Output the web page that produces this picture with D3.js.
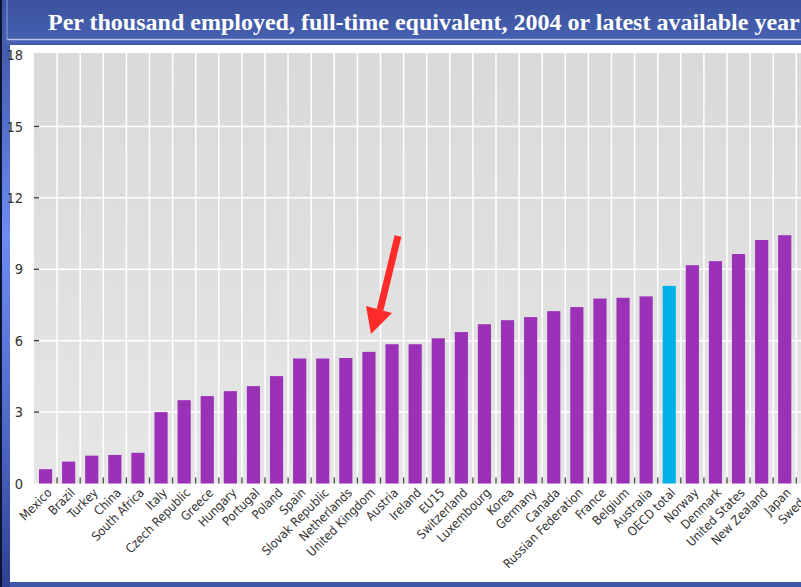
<!DOCTYPE html>
<html><head><meta charset="utf-8">
<script src="https://cdn.jsdelivr.net/npm/d3@7/dist/d3.min.js"></script>
<style>html,body{margin:0;padding:0;background:#fff;overflow:hidden}</style>
</head><body>
<script>
const titleText = "Per thousand employed, full-time equivalent, 2004 or latest available year";
const categories = ["Mexico","Brazil","Turkey","China","South Africa","Italy","Czech Republic","Greece","Hungary","Portugal","Poland","Spain","Slovak Republic","Netherlands","United Kingdom","Austria","Ireland","EU15","Switzerland","Luxembourg","Korea","Germany","Canada","Russian Federation","France","Belgium","Australia","OECD total","Norway","Denmark","United States","New Zealand","Japan","Sweden"];
const values = [0.6,0.92,1.17,1.2,1.29,3.0,3.5,3.67,3.88,4.09,4.51,5.25,5.25,5.27,5.53,5.85,5.85,6.1,6.36,6.69,6.86,6.99,7.24,7.41,7.77,7.8,7.86,8.3,9.17,9.34,9.64,10.23,10.43,11.0];
const highlight = ["OECD total"];
const yTicks = [0,3,6,9,12,15,18];

const W = 801, H = 587;
const svg = d3.select("body").append("svg").attr("width", W).attr("height", H);
const defs = svg.append("defs");

const lg = defs.append("linearGradient").attr("id","leftg").attr("x1",0).attr("y1",0).attr("x2",0).attr("y2",1);
lg.append("stop").attr("offset","0%").attr("stop-color","#3a4f9c");
lg.append("stop").attr("offset","40%").attr("stop-color","#6b8cf5");
lg.append("stop").attr("offset","75%").attr("stop-color","#4d66c4");
lg.append("stop").attr("offset","100%").attr("stop-color","#2e4090");
const bg = defs.append("linearGradient").attr("id","bang").attr("x1",0).attr("y1",0).attr("x2",0).attr("y2",1);
bg.append("stop").attr("offset","0%").attr("stop-color","#3b539e");
bg.append("stop").attr("offset","100%").attr("stop-color","#4761b2");
const pg = defs.append("linearGradient").attr("id","plotg").attr("x1",0).attr("y1",0).attr("x2",0).attr("y2",1);
pg.append("stop").attr("offset","0%").attr("stop-color","#d9d9d9");
pg.append("stop").attr("offset","100%").attr("stop-color","#e6e6e6");

svg.append("rect").attr("x",0).attr("y",0).attr("width",W).attr("height",H).attr("fill","#3d56a6");
svg.append("rect").attr("x",0).attr("y",0).attr("width",10).attr("height",H).attr("fill","url(#leftg)");
svg.append("rect").attr("x",0).attr("y",0).attr("width",2).attr("height",H).attr("fill","#0d1330");
svg.append("rect").attr("x",2).attr("y",0).attr("width",W-2).attr("height",44).attr("fill","url(#bang)");
svg.append("line").attr("x1",7).attr("x2",W).attr("y1",39.5).attr("y2",39.5).attr("stroke","#b8c3ea").attr("stroke-width",1.5);
svg.append("line").attr("x1",7).attr("x2",7).attr("y1",0).attr("y2",40).attr("stroke","#8ea0dd").attr("stroke-width",1);
svg.append("rect").attr("x",10).attr("y",45).attr("width",W-10).attr("height",537).attr("fill","#ffffff");

svg.append("text").attr("x",48).attr("y",29.5)
  .attr("font-family","'Liberation Serif','Times New Roman',serif").attr("font-weight","bold")
  .attr("font-size",24).attr("fill","#ffffff").text(titleText);

const step = 23.1;
const x0 = 34;
const xBand = d3.scaleBand().domain(categories).range([x0, x0 + step*categories.length]).padding(0);
const xBar = d3.scaleBand().domain(categories).range([x0, x0 + step*categories.length]).paddingInner(0.43).paddingOuter(0.215);
const y = d3.scaleLinear().domain([0,18]).range([483.5, 55]);

const plot = svg.append("g");
const plotRight = x0 + step*categories.length;
plot.append("rect").attr("x",x0).attr("y",53).attr("width",plotRight-x0).attr("height",y(0)-53).attr("fill","url(#plotg)");

plot.selectAll(".vsep").data(categories.slice(1)).enter().append("line")
  .attr("x1",d=>xBand(d)).attr("x2",d=>xBand(d)).attr("y1",53).attr("y2",y(0)-6)
  .attr("stroke","#ffffff").attr("stroke-width",1.5);
plot.selectAll(".hg").data(yTicks.filter(t=>t>0 && t<18)).enter().append("line")
  .attr("x1",x0).attr("x2",plotRight).attr("y1",d=>y(d)).attr("y2",d=>y(d))
  .attr("stroke","#ffffff").attr("stroke-width",1.5);
plot.selectAll(".bt").data(categories.slice(1)).enter().append("line")
  .attr("x1",d=>xBand(d)).attr("x2",d=>xBand(d)).attr("y1",y(0)-6).attr("y2",y(0))
  .attr("stroke","#444").attr("stroke-width",1.2);

plot.selectAll(".bar").data(categories).enter().append("rect")
  .attr("x",d=>xBar(d)).attr("width",xBar.bandwidth())
  .attr("y",(d,i)=>y(values[i])).attr("height",(d,i)=>y(0)-y(values[i]))
  .attr("fill",d=>highlight.includes(d) ? "#00b2e8" : "#9b31b6");

const narrow = "'Liberation Sans Narrow','Arial Narrow','DejaVu Sans Condensed',sans-serif";
const yAxis = d3.axisLeft(y).tickValues(yTicks).tickSize(0).tickPadding(0);
const ya = svg.append("g").attr("transform","translate(23,0)").call(yAxis);
ya.select(".domain").remove();
ya.selectAll("text").attr("font-family",narrow)
  .attr("font-size",14.5).attr("fill","#333");
svg.selectAll(".ytm").data(yTicks.filter(t=>t>0 && t<18)).enter().append("line")
  .attr("x1",x0).attr("x2",x0+5).attr("y1",d=>y(d)).attr("y2",d=>y(d)).attr("stroke","#333").attr("stroke-width",1.3);

const xAxis = d3.axisBottom(xBand).tickSize(0).tickPadding(0);
const xa = svg.append("g").attr("transform",`translate(0,${y(0)})`).call(xAxis);
xa.select(".domain").remove();
xa.selectAll("text")
  .attr("font-family",narrow)
  .attr("font-size",12.5).attr("fill","#333")
  .attr("text-anchor","end").attr("dy",0).attr("y",0).attr("x",0)
  .attr("transform","translate(7,10) rotate(-45)");

const arrow = svg.append("g");
arrow.append("line").attr("x1",398).attr("y1",236).attr("x2",380).attr("y2",310)
  .attr("stroke","#ff2b2b").attr("stroke-width",7);
arrow.append("polygon").attr("points","366,306 392,313 371,334").attr("fill","#ff2b2b");
</script>
</body></html>
